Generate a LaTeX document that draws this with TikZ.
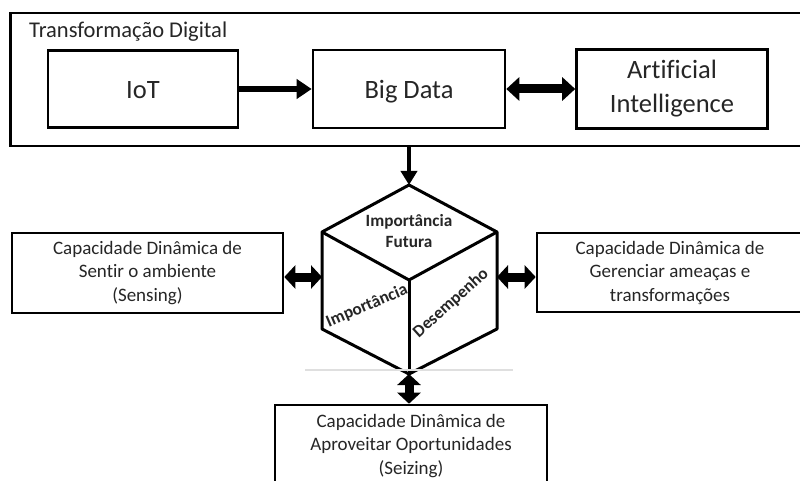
\documentclass[tikz,border=0pt]{standalone}
\usepackage{fontspec}
\setmainfont{Carlito}[Ligatures=NoCommon]
\usetikzlibrary{arrows.meta}
\tikzset{
  box/.style={draw=black, line width=2.6pt, inner sep=0pt, align=center,
    text=black!85, font=\fontsize{19}{23.5}\selectfont},
  techbox/.style={box, font=\fontsize{26.5}{34}\selectfont},
  oneline/.style={text height=22pt, text depth=3pt},
  cubeline/.style={draw=black, line width=3pt, line join=round},
  cubetext/.style={text=black!85, font=\bfseries\fontsize{17.2}{21}\selectfont, align=center, inner sep=0pt},
  flowarrow/.style={line width=6.5pt, -{Triangle[length=15pt,width=19pt]}},
  downarrow/.style={line width=3.5pt, -{Triangle[length=14pt,width=16pt]}},
  linkarrow/.style={line width=9pt, {Triangle[length=13pt,width=23pt]}-{Triangle[length=13pt,width=23pt]}},
  sidearrow/.style={line width=9pt, {Triangle[length=11pt,width=23pt]}-{Triangle[length=11pt,width=23pt]}},
}
\begin{document}
\begin{tikzpicture}[x=1pt,y=-1pt]
  \useasboundingbox (0,0) rectangle (800,481);
  \clip (0,0) rectangle (800,481);
  \fill[white] (0,0) rectangle (800,481);

  % Digital transformation frame
  \node[box, minimum width=795pt, minimum height=133pt] (frame) at (408,79.5) {};
  \node[anchor=base west, text=black!85, font=\fontsize{22.5}{26}\selectfont, inner sep=0pt] (frametitle) at (29,37.5) {Transformação Digital};

  \node[techbox, oneline, minimum width=190pt, minimum height=77pt] (iot) at (143,89) {IoT};
  \node[techbox, oneline, minimum width=192pt, minimum height=78pt] (bd) at (409,89) {Big Data};
  \node[techbox, minimum width=191pt, minimum height=79pt] (ai) at (672,89) {Artificial\\Intelligence};

  \draw[flowarrow] (iot.east) -- (bd.west);
  \draw[linkarrow] (bd.east) -- (bd.east -| ai.west);

  % Cube
  \coordinate (ctop) at (409,185);
  \coordinate (cul) at (322,232);
  \coordinate (cur) at (497,232);
  \coordinate (cc) at (409,280);
  \coordinate (cbl) at (322,329);
  \coordinate (cbr) at (497,329);
  \coordinate (cb) at (409,374);
  \coordinate (cleft) at (322,277);
  \coordinate (cright) at (497,277);
  \draw[cubeline] (ctop) -- (cur) -- (cbr) -- (cb) -- (cbl) -- (cul) -- cycle;
  \draw[cubeline] (cul) -- (cc) -- (cur);
  \draw[cubeline] (cc) -- (cb);

  \draw[gray!25, line width=1.2pt] (305,370) -- (513,370);

  \node[cubetext] (fut) at (409,231) {Importância\\Futura};
  \node[cubetext, rotate=23] (imp) at (367,306) {Importância};
  \node[cubetext, rotate=42] (des) at (451,303) {Desempenho};

  \draw[downarrow] (frame.south -| ctop) -- (ctop);

  % Dynamic capabilities
  \node[box, minimum width=271pt, minimum height=80pt] (sense) at (147.5,273) {Capacidade Dinâmica de\\Sentir o ambiente\\(Sensing)};
  \node[box, minimum width=266pt, minimum height=79pt] (manage) at (670,272.5) {Capacidade Dinâmica de\\Gerenciar ameaças e\\transformações};
  \node[box, minimum width=272pt, minimum height=80pt] (seize) at (411,445) {};
  \node[text=black!85, font=\fontsize{19}{23.5}\selectfont, align=center, inner sep=0pt] (seizetext) at (411,446) {Capacidade Dinâmica de\\Aproveitar Oportunidades\\(Seizing)};

  \draw[sidearrow] (sense.east |- cleft) -- (cleft);
  \draw[sidearrow] (cright) -- (cright -| manage.west);
  \draw[sidearrow] (cb) -- (cb |- seize.north);
\end{tikzpicture}
\end{document}
